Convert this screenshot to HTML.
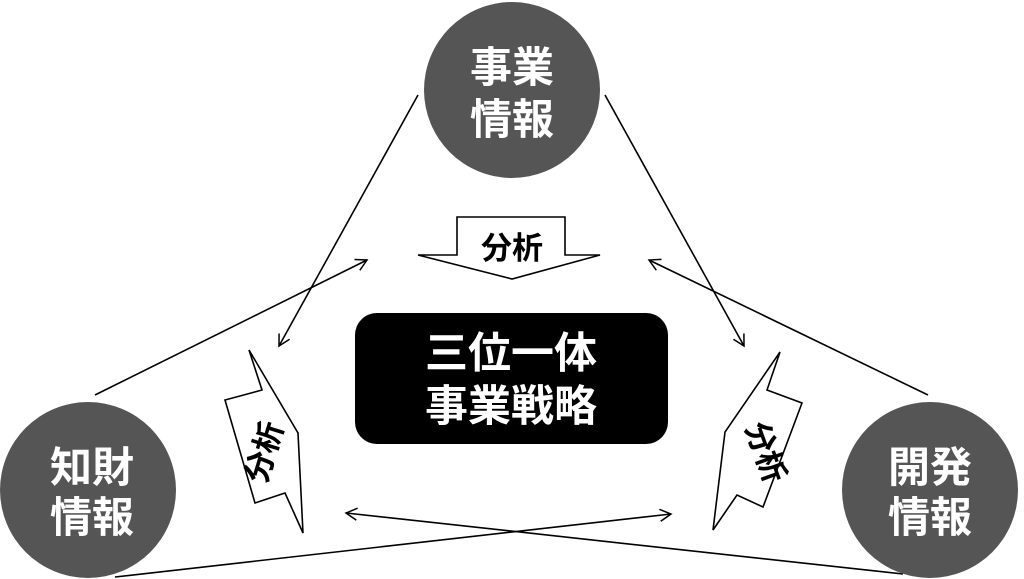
<!DOCTYPE html>
<html><head><meta charset="utf-8"><style>
html,body{margin:0;padding:0;background:#fff;}
svg{display:block}
text{font-family:"Liberation Sans","Noto Sans CJK JP",sans-serif;font-weight:bold;}
</style></head><body>
<svg width="1024" height="579" viewBox="0 0 1024 579" xmlns="http://www.w3.org/2000/svg">
<defs>
<marker id="a" markerWidth="14" markerHeight="14" refX="12" refY="7" orient="auto" markerUnits="userSpaceOnUse">
<path d="M1,1 L12,7 L1,13" fill="none" stroke="#000" stroke-width="1.5"/>
</marker>
</defs>
<g stroke="#000" stroke-width="1.6" fill="none">
<line x1="418" y1="95" x2="279" y2="346" marker-end="url(#a)"/>
<line x1="95" y1="395" x2="367" y2="260" marker-end="url(#a)"/>
<line x1="605" y1="95" x2="744" y2="346" marker-end="url(#a)"/>
<line x1="928" y1="395" x2="649" y2="260" marker-end="url(#a)"/>
<line x1="115" y1="577" x2="671" y2="514" marker-end="url(#a)"/>
<line x1="903" y1="574" x2="346" y2="513" marker-end="url(#a)"/>
</g>
<circle cx="512" cy="90" r="88" fill="#555"/>
<circle cx="88" cy="490" r="88" fill="#555"/>
<circle cx="930" cy="490" r="88" fill="#555"/>
<g fill="#fff" font-size="42" text-anchor="middle">
<text x="512" y="82">事業</text><text x="512" y="134">情報</text>
<text x="92" y="482">知財</text><text x="92" y="532">情報</text>
<text x="930" y="482">開発</text><text x="930" y="532">情報</text>
</g>
<rect x="355" y="313" width="313" height="131" rx="22" fill="#000"/>
<g fill="#fff" font-size="43" text-anchor="middle">
<text x="511" y="368">三位一体</text><text x="511" y="421">事業戦略</text>
</g>
<g fill="#fff" stroke="#000" stroke-width="1.6">
<polygon points="457,217 565,217 565,255 600,255 512,279 418,255 457,255"/>
<polygon points="249,350 262,390 225,400 255,503 285,493 303,533 298,433"/>
<polygon points="780,352 767,390 802,403 763,507 737,495 713,530 725,432"/>
</g>
<g fill="#000" font-size="31" text-anchor="middle">
<text x="512" y="259">分析</text>
<text transform="translate(264,452) rotate(-73)" y="11">分析</text>
<text transform="translate(766,452) rotate(70)" y="11">分析</text>
</g>
</svg>
</body></html>
